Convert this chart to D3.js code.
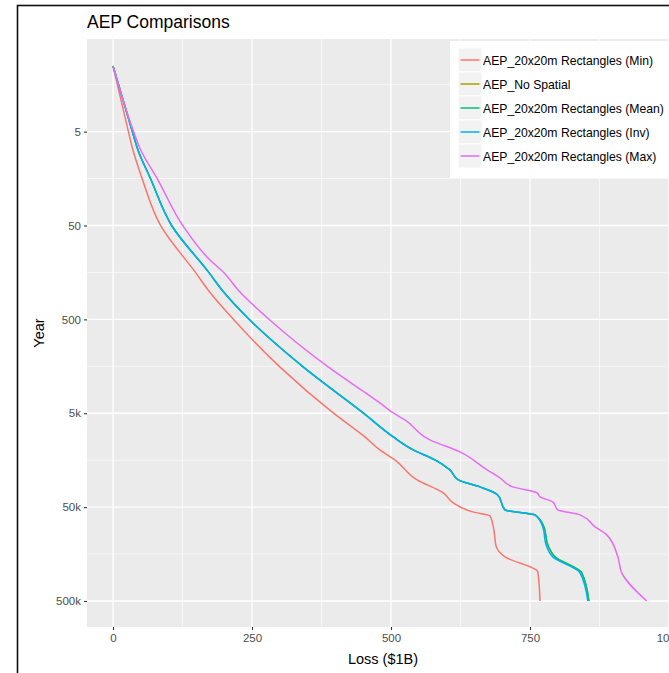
<!DOCTYPE html>
<html>
<head>
<meta charset="utf-8">
<script src="https://cdn.jsdelivr.net/npm/d3@7"></script>
<style>
  body { margin: 0; background: #fff; }
  svg { display: block; font-family: "Liberation Sans", Arial, sans-serif; }
</style>
</head>
<body>
<div id="chart"></div>
<script>
// data: [loss ($1B), return period (year)]
var seriesNames = [
  "AEP_20x20m Rectangles (Min)",
  "AEP_No Spatial",
  "AEP_20x20m Rectangles (Mean)",
  "AEP_20x20m Rectangles (Inv)",
  "AEP_20x20m Rectangles (Max)"
];
var seriesColors = ["#F8766D", "#A3A500", "#00BF7D", "#00B0F6", "#E76BF3"];

var minCurve = [
  [0, 1], [27, 4.8], [36, 7.9], [52, 15.6], [86, 50.6], [149, 160], [171, 243],
  [216, 495], [300, 1605], [396, 4960], [453, 8930], [480, 12290], [507, 15700],
  [547, 25640], [594, 35250], [612, 45060], [647, 56200], [678, 62000],
  [685, 87300], [689, 130000], [705, 169400], [764, 244700], [768, 500000]
];
var noSpatialCurve = [
  [0, 1], [34, 4.8], [45, 7.9], [67, 15.6], [106, 50.6], [173, 160], [196, 243],
  [246, 507], [342, 1605], [450, 4960], [504, 8930], [540, 12290], [579, 15700],
  [606, 20070], [621, 25640], [660, 30440], [692, 37050], [705, 53500],
  [759, 60500], [775, 81200], [782, 126200], [795, 169400], [843, 250700], [856, 500000]
];
var meanCurve = [
  [0, 1], [34, 4.8], [45, 7.9], [67, 15.6], [106, 50.6], [173, 160], [196, 243],
  [246, 507], [342, 1605], [450, 4960], [504, 8930], [540, 12290], [579, 15700],
  [606, 20070], [621, 25640], [660, 30440], [692, 37050], [705, 53500],
  [759, 60500], [775, 81200], [782, 126200], [795, 169400], [843, 250700], [856, 500000]
];
var invCurve = [
  [0, 1], [34, 4.8], [45, 7.9], [67, 15.6], [106, 50.6], [173, 160], [196, 243],
  [246, 507], [342, 1605], [450, 4960], [504, 8930], [540, 12290], [579, 15700],
  [606, 20070], [621, 25640], [660, 30440], [692, 37050], [705, 53500],
  [759, 60500], [773, 81200], [779, 126200], [791, 169400], [840, 250700], [854, 500000]
];
var maxCurve = [
  [0, 1], [36, 4.8], [50, 7.9], [79, 15.6], [126, 50.6], [174, 116], [200, 160],
  [225, 243], [282, 507], [387, 1605], [480, 3880], [504, 4960], [525, 5890],
  [570, 9620], [624, 12900], [673, 20070], [696, 24410], [719, 30440],
  [763, 35250], [768, 38900], [791, 43980], [800, 53500], [840, 60500],
  [867, 81200], [888, 98800], [908, 169400], [915, 250700], [960, 500000]
];
var curves = [minCurve, noSpatialCurve, meanCurve, invCurve, maxCurve];

var xTicks = [0, 250, 500, 750, 1000];
var xMinor = [125, 375, 625, 875];
var yTicks = [5, 50, 500, 5000, 50000, 500000];
var yTickLabels = ["5", "50", "500", "5k", "50k", "500k"];
var yMinor = [1.58, 15.8, 158, 1581, 15811, 158114];

var W = 669, H = 673;
var panel = { left: 87, top: 39, right: 676, bottom: 627 };

var svg = d3.select("#chart").append("svg")
  .attr("width", W)
  .attr("height", H);

// Escalas
var x = d3.scaleLinear().domain([0, 1000]).range([113, 669]);
var y = d3.scaleLog().domain([1, 500000]).range([66, 601]);

// frame of the screenshot
svg.append("rect")
  .attr("x", 17.5).attr("y", 5.5)
  .attr("width", 700).attr("height", 700)
  .attr("fill", "none")
  .attr("stroke", "#111")
  .attr("stroke-width", 1.6);

// panel
svg.append("rect")
  .attr("x", panel.left).attr("y", panel.top)
  .attr("width", panel.right - panel.left)
  .attr("height", panel.bottom - panel.top)
  .attr("fill", "#EBEBEB");

var grid = svg.append("g");
grid.selectAll(".xminor").data(xMinor).enter().append("line")
  .attr("x1", d => x(d)).attr("x2", d => x(d))
  .attr("y1", panel.top).attr("y2", panel.bottom)
  .attr("stroke", "#fff").attr("stroke-width", 0.6);
grid.selectAll(".yminor").data(yMinor).enter().append("line")
  .attr("y1", d => y(d)).attr("y2", d => y(d))
  .attr("x1", panel.left).attr("x2", panel.right)
  .attr("stroke", "#fff").attr("stroke-width", 0.6);
grid.selectAll(".xmajor").data(xTicks).enter().append("line")
  .attr("x1", d => x(d)).attr("x2", d => x(d))
  .attr("y1", panel.top).attr("y2", panel.bottom)
  .attr("stroke", "#fff").attr("stroke-width", 1.3);
grid.selectAll(".ymajor").data(yTicks).enter().append("line")
  .attr("y1", d => y(d)).attr("y2", d => y(d))
  .attr("x1", panel.left).attr("x2", panel.right)
  .attr("stroke", "#fff").attr("stroke-width", 1.3);

// lines (smooth in the upper part, like the many-point original)
var line = d3.line()
  .curve(d3.curveMonotoneY)
  .x(d => x(d[0]))
  .y(d => y(d[1]));

svg.append("g").selectAll("path")
  .data(curves)
  .enter().append("path")
  .attr("d", line)
  .attr("fill", "none")
  .attr("stroke", (d, i) => seriesColors[i])
  .attr("stroke-width", 1.5)
  .attr("stroke-linejoin", "round");

// Eje X
var xAxis = svg.append("g")
  .attr("transform", "translate(0," + panel.bottom + ")")
  .call(d3.axisBottom(x).tickValues(xTicks).tickSize(3).tickPadding(4).tickFormat(d3.format("d")));
xAxis.select(".domain").remove();
xAxis.selectAll("line").attr("stroke", "#333").attr("stroke-width", 1.1);
xAxis.selectAll("text").attr("fill", "#4D4D4D").style("font-size", "11.5px");

// Eje Y
var yAxis = svg.append("g")
  .attr("transform", "translate(" + panel.left + ",0)")
  .call(d3.axisLeft(y).tickValues(yTicks).tickSize(3).tickPadding(3)
    .tickFormat((d, i) => yTickLabels[i]));
yAxis.select(".domain").remove();
yAxis.selectAll("line").attr("stroke", "#333").attr("stroke-width", 1.1);
yAxis.selectAll("text").attr("fill", "#4D4D4D").style("font-size", "11.5px");

// titles
svg.append("text")
  .attr("x", 87).attr("y", 28)
  .attr("font-size", "17.5px")
  .attr("fill", "#000")
  .text("AEP Comparisons");

svg.append("text")
  .attr("x", 383).attr("y", 664)
  .attr("text-anchor", "middle")
  .attr("font-size", "14.5px")
  .text("Loss ($1B)");

svg.append("text")
  .attr("transform", "translate(44,333) rotate(-90)")
  .attr("text-anchor", "middle")
  .attr("font-size", "14.5px")
  .text("Year");

// legend
var legend = svg.append("g");
legend.append("rect")
  .attr("x", 450).attr("y", 41)
  .attr("width", 230).attr("height", 137)
  .attr("fill", "#fff");

var rows = legend.selectAll(".row").data(seriesNames).enter().append("g")
  .attr("transform", (d, i) => "translate(458," + (48 + i * 24) + ")");
rows.append("rect")
  .attr("width", 24).attr("height", 24)
  .attr("fill", "#F2F2F2")
  .attr("stroke", "#fff");
rows.append("line")
  .attr("x1", 2.5).attr("x2", 21.5)
  .attr("y1", 12).attr("y2", 12)
  .attr("stroke", (d, i) => seriesColors[i])
  .attr("stroke-width", 1.5);
rows.append("text")
  .attr("x", 25).attr("y", 16.5)
  .attr("font-size", "12.2px")
  .attr("fill", "#000")
  .text(d => d);
</script>
</body>
</html>
